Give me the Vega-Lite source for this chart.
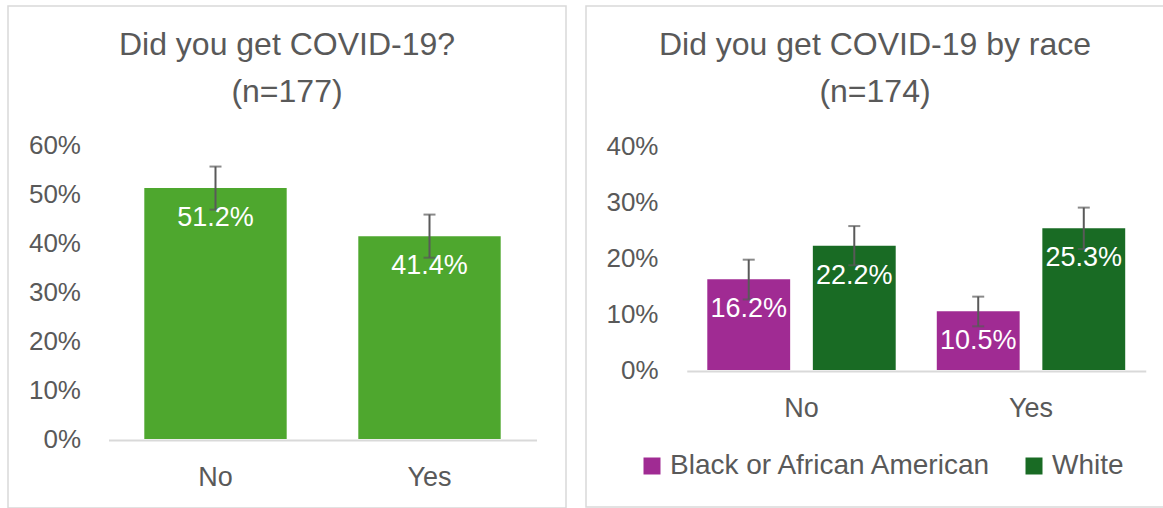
{
  "$schema": "https://vega.github.io/schema/vega-lite/v6.json",
  "padding": {"left": 7, "top": 5, "right": 0, "bottom": 0},
  "spacing": 18,
  "config": {
    "font": "Liberation Sans",
    "view": {"stroke": "#D9D9D9", "strokeWidth": 1.5},
    "title": {"fontSize": 32, "color": "#595959", "fontWeight": "normal", "lineHeight": 47, "offset": -103, "anchor": "middle", "frame": "group"},
    "axis": {"labelColor": "#595959", "labelFont": "Liberation Sans", "grid": false, "ticks": false, "tickSize": 0, "title": null}
  },
  "hconcat": [
    {
      "width": 558,
      "height": 502,
      "title": {"text": ["Did you get COVID-19?", "(n=177)"]},
      "data": {"values": [
        {"cat": "No", "pct": 0.512, "lo": 0.468, "hi": 0.556},
        {"cat": "Yes", "pct": 0.414, "lo": 0.370, "hi": 0.458}
      ]},
      "encoding": {
        "x": {"field": "cat", "type": "nominal", "sort": ["No", "Yes"],
          "scale": {"range": [100.5, 528.5], "paddingInner": 0.3346, "paddingOuter": 0.1673},
          "axis": {"orient": "bottom", "offset": -68, "labelAngle": 0, "labelFontSize": 27, "labelPadding": 24, "domain": true, "domainColor": "#D9D9D9", "domainWidth": 2}}
      },
      "layer": [
        {"mark": {"type": "bar", "color": "#4EA72E"},
          "encoding": {"y": {"field": "pct", "type": "quantitative",
            "scale": {"domain": [0, 0.6], "range": [433, 139], "nice": false, "zero": false},
            "axis": {"orient": "left", "offset": -72.5, "labelPadding": 0, "domain": false, "values": [0, 0.1, 0.2, 0.3, 0.4, 0.5, 0.6], "format": ".0%", "labelFontSize": 26}}}},
        {"mark": {"type": "rule", "color": "#595959", "strokeWidth": 2},
          "encoding": {"y": {"field": "lo", "type": "quantitative"}, "y2": {"field": "hi"}}},
        {"mark": {"type": "tick", "color": "#595959", "thickness": 2, "size": 12, "orient": "horizontal"},
          "encoding": {"y": {"field": "lo", "type": "quantitative"}}},
        {"mark": {"type": "tick", "color": "#595959", "thickness": 2, "size": 12, "orient": "horizontal"},
          "encoding": {"y": {"field": "hi", "type": "quantitative"}}},
        {"mark": {"type": "text", "color": "white", "fontSize": 27, "dy": 30, "baseline": "middle"},
          "encoding": {"y": {"field": "pct", "type": "quantitative"}, "text": {"field": "pct", "type": "quantitative", "format": ".1%"}}}
      ]
    },
    {
      "width": 578,
      "height": 501,
      "title": {"text": ["Did you get COVID-19 by race", "(n=174)"]},
      "data": {"values": [
        {"cat": "No", "race": "Black or African American", "pct": 0.162, "lo": 0.126, "hi": 0.197},
        {"cat": "No", "race": "White", "pct": 0.222, "lo": 0.187, "hi": 0.257},
        {"cat": "Yes", "race": "Black or African American", "pct": 0.105, "lo": 0.078, "hi": 0.131},
        {"cat": "Yes", "race": "White", "pct": 0.253, "lo": 0.216, "hi": 0.290}
      ]},
      "encoding": {
        "x": {"field": "cat", "type": "nominal", "sort": ["No", "Yes"],
          "scale": {"range": [100.75, 559.75], "paddingInner": 0.179, "paddingOuter": 0.0895},
          "axis": {"orient": "bottom", "offset": -136, "labelAngle": 0, "labelFontSize": 27, "labelPadding": 24, "domain": true, "domainColor": "#D9D9D9", "domainWidth": 2}},
        "xOffset": {"field": "race", "type": "nominal", "sort": ["Black or African American", "White"], "scale": {"paddingInner": 0.215, "paddingOuter": 0}}
      },
      "layer": [
        {"mark": {"type": "bar"},
          "encoding": {
            "y": {"field": "pct", "type": "quantitative",
              "scale": {"domain": [0, 0.4], "range": [364, 140], "nice": false, "zero": false},
              "axis": {"orient": "left", "offset": -72, "labelPadding": 0, "domain": false, "values": [0, 0.1, 0.2, 0.3, 0.4], "format": ".0%", "labelFontSize": 26}},
            "color": {"field": "race", "type": "nominal",
              "scale": {"domain": ["Black or African American", "White"], "range": ["#A02B93", "#196B24"]},
              "legend": {"orient": "none", "legendX": 630, "legendY": 446, "direction": "horizontal", "title": null, "symbolType": "square", "symbolSize": 289, "symbolStrokeWidth": 0, "symbolOpacity": 1, "labelFontSize": 28, "labelColor": "#595959", "labelLimit": 0, "labelOffset": 4, "columnPadding": 27}}
          }},
        {"mark": {"type": "rule", "color": "#595959", "strokeWidth": 2},
          "encoding": {"y": {"field": "lo", "type": "quantitative"}, "y2": {"field": "hi"}}},
        {"mark": {"type": "tick", "color": "#595959", "thickness": 2, "size": 12, "orient": "horizontal"},
          "encoding": {"y": {"field": "lo", "type": "quantitative"}}},
        {"mark": {"type": "tick", "color": "#595959", "thickness": 2, "size": 12, "orient": "horizontal"},
          "encoding": {"y": {"field": "hi", "type": "quantitative"}}},
        {"mark": {"type": "text", "color": "white", "fontSize": 27, "dy": 30, "baseline": "middle"},
          "encoding": {"y": {"field": "pct", "type": "quantitative"}, "text": {"field": "pct", "type": "quantitative", "format": ".1%"}}}
      ]
    }
  ]
}
